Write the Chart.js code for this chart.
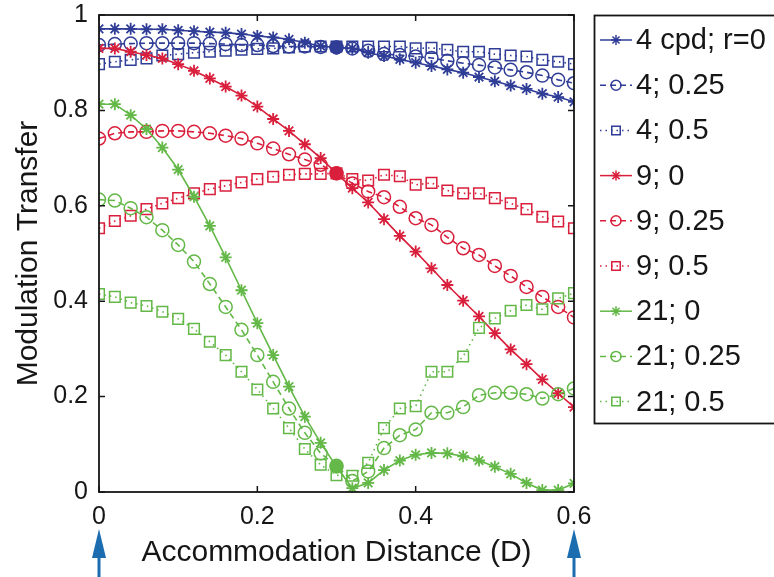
<!DOCTYPE html>
<html>
<head>
<meta charset="utf-8">
<script src="https://cdn.jsdelivr.net/npm/chart.js@4.4.1/dist/chart.umd.min.js"></script>
<style>
  body { margin: 0; background: #fff; }
  #wrap { width: 774px; height: 577px; }
</style>
</head>
<body>
<div id="wrap"><canvas id="mtf" width="774" height="577"></canvas></div>
<script>
// accommodation distance (D)
const distances = [0, 0.02, 0.04, 0.06, 0.08, 0.1, 0.12, 0.14, 0.16, 0.18, 0.2, 0.22, 0.24, 0.26, 0.28, 0.3,
  0.32, 0.34, 0.36, 0.38, 0.4, 0.42, 0.44, 0.46, 0.48, 0.5, 0.52, 0.54, 0.56, 0.58, 0.6];

const c4r0 = [0.971, 0.971, 0.971, 0.970, 0.970, 0.968, 0.966, 0.964, 0.963, 0.960, 0.956, 0.953, 0.949, 0.942, 0.935, 0.932,
  0.930, 0.921, 0.914, 0.907, 0.900, 0.893, 0.886, 0.879, 0.870, 0.861, 0.852, 0.845, 0.835, 0.828, 0.818];
const c4r25 = [0.937, 0.939, 0.940, 0.941, 0.941, 0.941, 0.941, 0.940, 0.939, 0.937, 0.937, 0.935, 0.934, 0.934, 0.933, 0.932,
  0.930, 0.925, 0.918, 0.916, 0.913, 0.910, 0.904, 0.899, 0.895, 0.890, 0.885, 0.880, 0.873, 0.864, 0.857];
const c4r5 = [0.897, 0.902, 0.906, 0.909, 0.915, 0.918, 0.921, 0.923, 0.925, 0.927, 0.929, 0.930, 0.932, 0.934, 0.934, 0.934,
  0.934, 0.934, 0.934, 0.934, 0.930, 0.931, 0.927, 0.923, 0.923, 0.918, 0.915, 0.913, 0.906, 0.902, 0.897];
const c9r0 = [0.930, 0.930, 0.923, 0.916, 0.909, 0.897, 0.883, 0.867, 0.850, 0.831, 0.808, 0.782, 0.757, 0.729, 0.700, 0.668,
  0.637, 0.607, 0.572, 0.537, 0.504, 0.469, 0.434, 0.401, 0.368, 0.333, 0.299, 0.268, 0.236, 0.207, 0.178];
const c9r25 = [0.741, 0.752, 0.755, 0.755, 0.757, 0.757, 0.755, 0.752, 0.747, 0.741, 0.731, 0.720, 0.708, 0.697, 0.686, 0.668,
  0.647, 0.630, 0.618, 0.598, 0.574, 0.560, 0.534, 0.511, 0.497, 0.474, 0.453, 0.430, 0.409, 0.388, 0.366];
const c9r5 = [0.553, 0.568, 0.579, 0.593, 0.605, 0.616, 0.626, 0.635, 0.642, 0.649, 0.656, 0.661, 0.665, 0.667, 0.667, 0.668,
  0.656, 0.653, 0.665, 0.662, 0.644, 0.648, 0.632, 0.626, 0.626, 0.616, 0.605, 0.593, 0.577, 0.567, 0.553];
const c21r0 = [0.813, 0.813, 0.790, 0.761, 0.722, 0.676, 0.619, 0.558, 0.492, 0.423, 0.354, 0.287, 0.221, 0.158, 0.103, 0.053,
  0.008, 0.019, 0.046, 0.066, 0.078, 0.082, 0.081, 0.075, 0.066, 0.053, 0.038, 0.019, 0.004, 0.004, 0.018];
const c21r25 = [0.613, 0.611, 0.595, 0.576, 0.549, 0.518, 0.483, 0.436, 0.388, 0.340, 0.287, 0.231, 0.175, 0.124, 0.081, 0.055,
  0.023, 0.043, 0.092, 0.119, 0.131, 0.166, 0.166, 0.178, 0.203, 0.208, 0.208, 0.205, 0.196, 0.205, 0.217];
const c21r5 = [0.415, 0.409, 0.397, 0.390, 0.378, 0.363, 0.342, 0.315, 0.287, 0.252, 0.215, 0.175, 0.134, 0.090, 0.057, 0.035,
  0.034, 0.061, 0.134, 0.175, 0.180, 0.252, 0.252, 0.284, 0.344, 0.364, 0.380, 0.392, 0.383, 0.406, 0.417];

// highlighted points at 0.3 D
const focusX = 0.3;
const focusVals = [0.932, 0.668, 0.053];

const seriesNames = ['4 cpd; r=0', '4; 0.25', '4; 0.5', '9; 0', '9; 0.25', '9; 0.5', '21; 0', '21; 0.25', '21; 0.5'];
const xTickLabels = ['0', '0.2', '0.4', '0.6'];
const yTickLabels = ['0', '0.2', '0.4', '0.6', '0.8', '1'];
const arrowAt = [0, 0.6];

const BLUE = '#2f3d97';
const RED = '#d91f3b';
const GREEN = '#63b847';
const FONT = '"Liberation Sans", Arial, Helvetica, sans-serif';
const INK = '#161616';

const solid = [], dashed = [6, 4], dotted = [1.5, 4];

function series(vals, label, color, style, dash) {
  const rad = style === 'star' ? 6 : style === 'rect' ? 7.5 : 6.5;
  return {
    label: label,
    data: distances.map((d, i) => ({ x: d, y: vals[i] })),
    borderColor: color,
    backgroundColor: 'rgba(0,0,0,0)',
    borderWidth: 1.6,
    borderDash: dash,
    pointStyle: style,
    pointRadius: rad,
    pointBorderWidth: style === 'star' ? 1.8 : 1.5,
    pointBorderColor: color,
    pointBackgroundColor: 'rgba(0,0,0,0)',
    tension: 0
  };
}

function focus(val, color) {
  return {
    label: '',
    data: [{ x: focusX, y: val }],
    pointStyle: 'circle',
    pointRadius: 6.5,
    pointBackgroundColor: color,
    pointBorderColor: color,
    borderColor: color,
    showLine: false
  };
}

const datasets = [
  series(c4r0, seriesNames[0], BLUE, 'star', solid),
  series(c4r25, seriesNames[1], BLUE, 'circle', dashed),
  series(c4r5, seriesNames[2], BLUE, 'rect', dotted),
  series(c9r0, seriesNames[3], RED, 'star', solid),
  series(c9r25, seriesNames[4], RED, 'circle', dashed),
  series(c9r5, seriesNames[5], RED, 'rect', dotted),
  series(c21r0, seriesNames[6], GREEN, 'star', solid),
  series(c21r25, seriesNames[7], GREEN, 'circle', dashed),
  series(c21r5, seriesNames[8], GREEN, 'rect', dotted),
  focus(focusVals[0], BLUE),
  focus(focusVals[1], RED),
  focus(focusVals[2], GREEN)
];
// draw later series on top, like matlab does
datasets.forEach((ds, i) => { ds.order = datasets.length - i; });

// box around the axes with inward ticks on all four sides
const boxTicks = {
  id: 'boxTicks',
  afterDatasetsDraw(chart) {
    const { ctx, chartArea: a, scales } = chart;
    ctx.save();
    ctx.strokeStyle = INK;
    ctx.lineWidth = 1.8;
    ctx.setLineDash([]);
    ctx.strokeRect(a.left, a.top, a.right - a.left, a.bottom - a.top);
    ctx.lineWidth = 1.5;
    ctx.beginPath();
    scales.x.ticks.forEach(t => {
      const px = scales.x.getPixelForValue(t.value);
      ctx.moveTo(px, a.bottom); ctx.lineTo(px, a.bottom - 6);
      ctx.moveTo(px, a.top); ctx.lineTo(px, a.top + 6);
    });
    scales.y.ticks.forEach(t => {
      const py = scales.y.getPixelForValue(t.value);
      ctx.moveTo(a.left, py); ctx.lineTo(a.left + 6, py);
      ctx.moveTo(a.right, py); ctx.lineTo(a.right - 6, py);
    });
    ctx.stroke();
    ctx.restore();
  }
};

// legend box, matlab style: line sample with marker, then text
const boxLegend = {
  id: 'boxLegend',
  afterDraw(chart) {
    const ctx = chart.ctx;
    ctx.save();
    ctx.strokeStyle = INK;
    ctx.lineWidth = 1.8;
    ctx.strokeRect(594.5, 15.5, 220, 408);
    ctx.font = '29px ' + FONT;
    ctx.textBaseline = 'middle';
    ctx.textAlign = 'left';
    seriesNames.forEach((name, i) => {
      const ds = chart.data.datasets[i];
      const y = 40 + i * 45.2;
      ctx.strokeStyle = ds.borderColor;
      ctx.lineWidth = 1.5;
      ctx.setLineDash(ds.borderDash);
      ctx.beginPath();
      ctx.moveTo(600, y); ctx.lineTo(632, y);
      ctx.stroke();
      ctx.setLineDash([]);
      ctx.fillStyle = 'rgba(0,0,0,0)';
      Chart.helpers.drawPoint(ctx, {
        pointStyle: ds.pointStyle,
        radius: ds.pointStyle === 'rect' ? 6 : 5,
        rotation: 0,
        borderWidth: 1.5
      }, 616, y);
      ctx.fillStyle = INK;
      ctx.fillText(name, 636, y + 1);
    });
    ctx.restore();
  }
};

// blue arrows under the axis at both ends
const endArrows = {
  id: 'endArrows',
  afterDraw(chart) {
    const { ctx, scales } = chart;
    ctx.save();
    ctx.fillStyle = '#1b6db0';
    ctx.strokeStyle = '#1b6db0';
    arrowAt.forEach(v => {
      const px = scales.x.getPixelForValue(v);
      ctx.beginPath();
      ctx.moveTo(px, 529);
      ctx.lineTo(px - 7, 558);
      ctx.lineTo(px + 7, 558);
      ctx.closePath();
      ctx.fill();
      ctx.lineWidth = 3;
      ctx.beginPath();
      ctx.moveTo(px, 556); ctx.lineTo(px, 577);
      ctx.stroke();
    });
    ctx.restore();
  }
};

new Chart(document.getElementById('mtf'), {
  type: 'line',
  data: { datasets },
  plugins: [boxTicks, boxLegend, endArrows],
  options: {
    responsive: false,
    animation: false,
    layout: { padding: { top: 15, right: 200, left: 0, bottom: 0 } },
    plugins: { legend: { display: false }, tooltip: { enabled: false } },
    scales: {
      x: {
        type: 'linear',
        min: 0,
        max: 0.6,
        afterFit(s) { s.height = 85; s.paddingLeft = 0; s.paddingRight = 0; },
        grid: { display: false, drawTicks: false },
        border: { display: false },
        ticks: {
          stepSize: 0.2,
          padding: 10,
          color: INK,
          font: { family: FONT, size: 25 },
          callback: (v, i) => xTickLabels[i]
        },
        title: {
          display: true,
          text: 'Accommodation Distance (D)',
          color: INK,
          font: { family: FONT, size: 30 },
          padding: { top: 0, bottom: 6 }
        }
      },
      y: {
        min: 0,
        max: 1,
        afterFit(s) { s.width = 99; s.paddingTop = 0; s.paddingBottom = 0; },
        grid: { display: false, drawTicks: false },
        border: { display: false },
        ticks: {
          stepSize: 0.2,
          padding: 11,
          color: INK,
          font: { family: FONT, size: 25 },
          callback: (v, i) => yTickLabels[i]
        },
        title: {
          display: true,
          text: 'Modulation Transfer',
          color: INK,
          font: { family: FONT, size: 30 },
          padding: { top: 11, bottom: 0 }
        }
      }
    }
  }
});
</script>
</body>
</html>
